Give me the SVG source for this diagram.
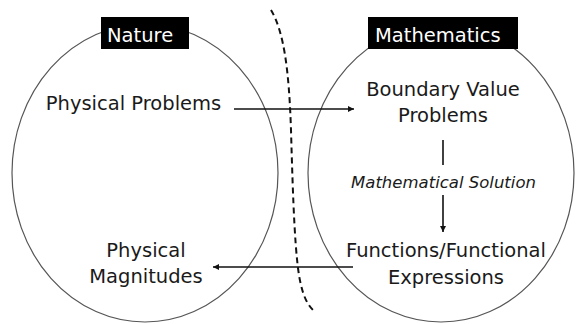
<svg xmlns="http://www.w3.org/2000/svg" width="576" height="324" viewBox="0 0 576 324">
<defs>
<style>
.ell{fill:none;stroke:#555;stroke-width:1.2}
.t{font-family:"DejaVu Sans",Verdana,sans-serif;font-size:19.5px;fill:#1a1a1a;text-anchor:middle}
.lbl{font-family:"DejaVu Sans",Verdana,sans-serif;font-size:19.5px;fill:#fff}
.it{font-family:"DejaVu Sans",Verdana,sans-serif;font-size:16.5px;font-style:italic;fill:#1a1a1a;text-anchor:middle}
.c{stroke:#111;stroke-width:1.6;fill:none}
</style>
<marker id="ah" viewBox="0 0 10 10" refX="10" refY="5" markerWidth="7" markerHeight="6" markerUnits="userSpaceOnUse" orient="auto">
<path d="M0,0 L10,5 L0,10 z" fill="#111"/>
</marker>
</defs>
<rect width="576" height="324" fill="#fff"/>
<g id="nature">
<ellipse class="ell" cx="145" cy="173" rx="133" ry="149"/>
<rect x="101" y="17" width="88" height="32" fill="#000"/>
<text class="lbl" x="107" y="42">Nature</text>
</g>
<g id="mathematics">
<ellipse class="ell" cx="441" cy="173" rx="133" ry="149"/>
<rect x="368" y="17" width="150" height="32" fill="#000"/>
<text class="lbl" x="375" y="42">Mathematics</text>
</g>
<g id="physical-problems"><text class="t" x="133.5" y="110">Physical Problems</text></g>
<g id="boundary-value-problems"><text class="t" x="443" y="96">Boundary Value</text><text class="t" x="443" y="122">Problems</text></g>
<g id="functions"><text class="t" x="446" y="257">Functions/Functional</text><text class="t" x="446" y="284">Expressions</text></g>
<g id="physical-magnitudes"><text class="t" x="146" y="257">Physical</text><text class="t" x="146" y="283">Magnitudes</text></g>
<g id="divider">
<path d="M271,10 C284,32 289,70 291,130 C293,200 295,262 301,285 C304,298 308,305 313,310" fill="none" stroke="#111" stroke-width="2" stroke-dasharray="6,4"/>
</g>
<g id="connectors">
<line class="c" x1="234" y1="109" x2="354" y2="109" marker-end="url(#ah)"/>
<line class="c" x1="443" y1="140" x2="443" y2="165"/>
<text class="it" x="443.5" y="188">Mathematical Solution</text>
<line class="c" x1="443" y1="195" x2="443" y2="232" marker-end="url(#ah)"/>
<line class="c" x1="353" y1="267" x2="213" y2="267" marker-end="url(#ah)"/>
</g>
</svg>
